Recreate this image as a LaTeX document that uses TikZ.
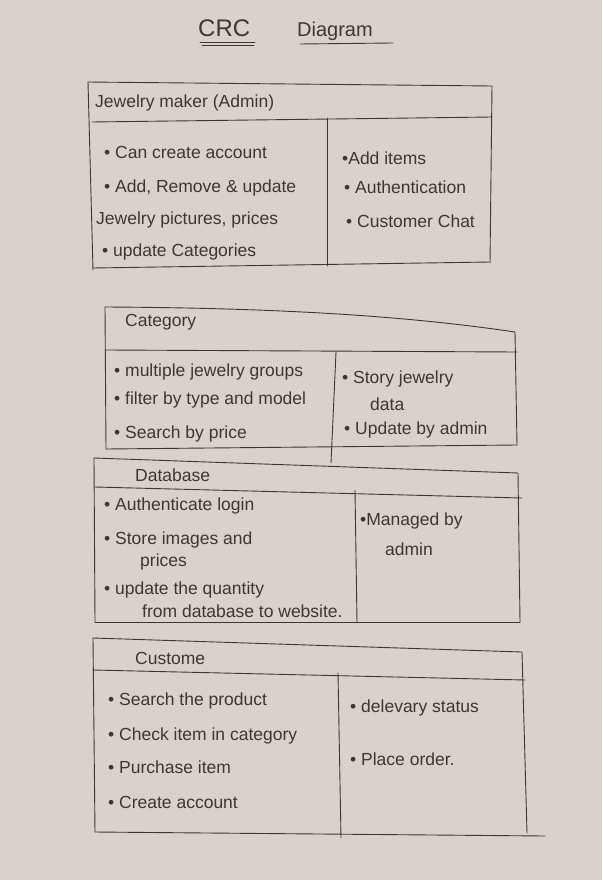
\documentclass[tikz,border=0pt]{standalone}
\usepackage{fontspec}
\setmainfont{Liberation Sans}
\definecolor{paper}{HTML}{D7D2CC}
\definecolor{inkc}{HTML}{3E3632}
\begin{document}
\begin{tikzpicture}[x=1pt,y=-1pt,
  ink/.style={draw=inkc, line width=0.9pt, line cap=round, line join=round},
  txt/.style={anchor=base west, inner sep=0pt, text=inkc, font=\fontsize{17.5}{20}\selectfont},
  hdr/.style={txt}]
\fill[paper] (0,0) rectangle (602,880);
\useasboundingbox (0,0) rectangle (602,880);

% title
\node[txt, font=\fontsize{24}{28}\selectfont] (crc) at (198,37) {CRC};
\node[txt, font=\fontsize{20}{24}\selectfont] (diag) at (297,37) {Diagram};
\draw[ink] (200,42) -- (255,42);
\draw[ink] (202,45) -- (254,45);
\draw[ink] (300,44) -- (393,43);

% Jewelry maker card
\draw[ink] (88,82) -- (492,86) -- (490,263);
\draw[ink] (88,82) -- (93,270);
\draw[ink] (92,122) -- (492,117);
\draw[ink] (327,118) -- (327,266);
\draw[ink] (93,268) -- (490,262);
\node[hdr] (jm) at (95,108) {Jewelry maker (Admin)};
\node[txt] (jm1) at (104,158) {• Can create account};
\node[txt] (jm2) at (104,192) {• Add, Remove \& update};
\node[txt] (jm3) at (96,224) {Jewelry pictures, prices};
\node[txt] (jm4) at (102,256) {• update Categories};
\node[txt] (jm5) at (342,164) {•Add items};
\node[txt] (jm6) at (344,193) {• Authentication};
\node[txt] (jm7) at (346,227) {• Customer Chat};

% Category card
\draw[ink] (105,307) .. controls (300,308) and (420,318) .. (515,332) -- (517,445);
\draw[ink] (105,307) -- (106,449);
\draw[ink] (106,350) -- (517,352);
\draw[ink] (336,352) -- (331,463);
\draw[ink] (106,449) -- (517,445);
\node[hdr] (cat) at (125,326) {Category};
\node[txt] (cat1) at (114,376) {• multiple jewelry groups};
\node[txt] (cat2) at (114,404) {• filter by type and model};
\node[txt] (cat3) at (114,438) {• Search by price};
\node[txt] (cat4) at (342,383) {• Story jewelry};
\node[txt] (cat5) at (370,410) {data};
\node[txt] (cat6) at (344,434) {• Update by admin};

% Database card
\draw[ink] (94,458) -- (518,473) -- (520,622);
\draw[ink] (94,458) -- (95,622);
\draw[ink] (95,487) -- (522,498);
\draw[ink] (355,490) -- (357,622);
\draw[ink] (95,622) -- (520,622);
\node[hdr] (db) at (135,481) {Database};
\node[txt] (db1) at (104,510) {• Authenticate login};
\node[txt] (db2) at (104,544) {• Store images and};
\node[txt] (db3) at (140,566) {prices};
\node[txt] (db4) at (104,594) {• update the quantity};
\node[txt] (db5) at (142,617) {from database to website.};
\node[txt] (db6) at (360,525) {•Managed by};
\node[txt] (db7) at (385,555) {admin};

% Customer card
\draw[ink] (93,638) -- (522,652) -- (527,833);
\draw[ink] (93,638) -- (95,832);
\draw[ink] (93,670) -- (525,680);
\draw[ink] (338,673) -- (341,838);
\draw[ink] (95,832) -- (545,836);
\node[hdr] (cu) at (135,664) {Custome};
\node[txt] (cu1) at (108,705) {• Search the product};
\node[txt] (cu2) at (108,740) {• Check item in category};
\node[txt] (cu3) at (108,773) {• Purchase item};
\node[txt] (cu4) at (108,808) {• Create account};
\node[txt] (cu5) at (350,712) {• delevary status};
\node[txt] (cu6) at (350,765) {• Place order.};
\end{tikzpicture}
\end{document}
